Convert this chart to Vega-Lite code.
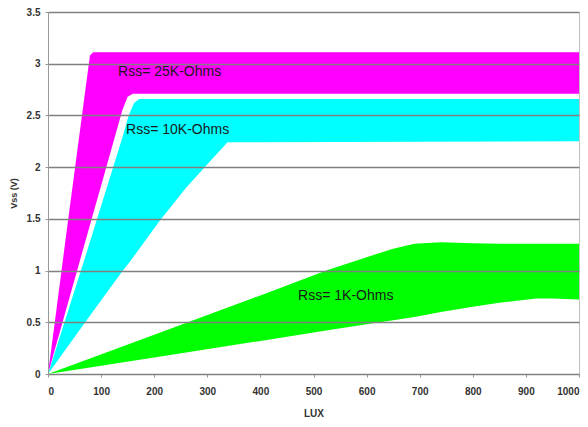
{
  "$schema": "https://vega.github.io/schema/vega-lite/v6.json",
  "width": 531,
  "height": 362,
  "autosize": {"type": "none"},
  "padding": {"left": 48, "top": 12, "right": 9, "bottom": 53},
  "config": {"view": {"stroke": "#c0c0c0"}, "font": "Liberation Sans"},
  "layer": [
    {
      "data": {
        "values": [
          {"band": "1K", "lux": 0, "lo": 0, "hi": 0},
          {"band": "1K", "lux": 200, "lo": 0.16, "hi": 0.38},
          {"band": "1K", "lux": 400, "lo": 0.32, "hi": 0.76},
          {"band": "1K", "lux": 524, "lo": 0.42, "hi": 1.0},
          {"band": "1K", "lux": 600, "lo": 0.48, "hi": 1.13},
          {"band": "1K", "lux": 650, "lo": 0.52, "hi": 1.21},
          {"band": "1K", "lux": 690, "lo": 0.55, "hi": 1.26},
          {"band": "1K", "lux": 740, "lo": 0.6, "hi": 1.275},
          {"band": "1K", "lux": 800, "lo": 0.65, "hi": 1.265},
          {"band": "1K", "lux": 850, "lo": 0.69, "hi": 1.26},
          {"band": "1K", "lux": 920, "lo": 0.73, "hi": 1.26},
          {"band": "1K", "lux": 950, "lo": 0.73, "hi": 1.26},
          {"band": "1K", "lux": 1000, "lo": 0.72, "hi": 1.26},
          {"band": "10K", "lux": 0, "lo": 0, "hi": 0},
          {"band": "10K", "lux": 70, "lo": 0.5, "hi": 1.13},
          {"band": "10K", "lux": 141, "lo": 1.0, "hi": 2.3},
          {"band": "10K", "lux": 152, "lo": 1.07, "hi": 2.5},
          {"band": "10K", "lux": 162, "lo": 1.14, "hi": 2.62},
          {"band": "10K", "lux": 172, "lo": 1.21, "hi": 2.66},
          {"band": "10K", "lux": 210, "lo": 1.48, "hi": 2.66},
          {"band": "10K", "lux": 260, "lo": 1.8, "hi": 2.66},
          {"band": "10K", "lux": 295, "lo": 2.0, "hi": 2.66},
          {"band": "10K", "lux": 338, "lo": 2.24, "hi": 2.66},
          {"band": "10K", "lux": 1000, "lo": 2.25, "hi": 2.66},
          {"band": "25K", "lux": 0, "lo": 0, "hi": 0},
          {"band": "25K", "lux": 40, "lo": 0.73, "hi": 1.57},
          {"band": "25K", "lux": 79, "lo": 1.44, "hi": 3.08},
          {"band": "25K", "lux": 85, "lo": 1.55, "hi": 3.11},
          {"band": "25K", "lux": 100, "lo": 1.82, "hi": 3.11},
          {"band": "25K", "lux": 140, "lo": 2.55, "hi": 3.11},
          {"band": "25K", "lux": 150, "lo": 2.68, "hi": 3.11},
          {"band": "25K", "lux": 160, "lo": 2.71, "hi": 3.11},
          {"band": "25K", "lux": 1000, "lo": 2.71, "hi": 3.11}
        ]
      },
      "mark": {"type": "area", "interpolate": "linear"},
      "encoding": {
        "x": {
          "field": "lux",
          "type": "quantitative",
          "scale": {"domain": [0, 1000], "nice": false},
          "axis": {
            "values": [0, 100, 200, 300, 400, 500, 600, 700, 800, 900, 1000],
            "format": "d",
            "grid": false,
            "domainColor": "#999999",
            "tickColor": "#999999",
            "tickSize": 3,
            "labelFontSize": 10,
            "labelFontWeight": "bold",
            "labelColor": "#333333",
            "labelPadding": 9,
            "title": "LUX",
            "titleFontSize": 10,
            "titleFontWeight": "bold",
            "titleColor": "#333333",
            "titlePadding": 12
          }
        },
        "y": {
          "field": "lo",
          "type": "quantitative",
          "scale": {"domain": [0, 3.5], "nice": false},
          "axis": {
            "values": [0, 0.5, 1, 1.5, 2, 2.5, 3, 3.5],
            "format": "~g",
            "grid": true,
            "gridColor": "#808080",
            "gridWidth": 1.3,
            "zindex": 1,
            "domainColor": "#999999",
            "tickColor": "#999999",
            "tickSize": 3,
            "labelFontSize": 10,
            "labelFontWeight": "bold",
            "labelColor": "#333333",
            "labelPadding": 5,
            "title": "Vss (V)",
            "titleFontSize": 9,
            "titleFontWeight": "bold",
            "titleColor": "#333333",
            "titlePadding": 8
          }
        },
        "y2": {"field": "hi"},
        "color": {
          "field": "band",
          "type": "nominal",
          "scale": {"domain": ["25K", "10K", "1K"], "range": ["#ff00ff", "#00ffff", "#00ff00"]},
          "legend": null
        }
      }
    },
    {
      "data": {
        "values": [
          {"x": 132, "y": 2.92, "label": "Rss= 25K-Ohms"},
          {"x": 147, "y": 2.36, "label": "Rss= 10K-Ohms"},
          {"x": 471, "y": 0.754, "label": "Rss= 1K-Ohms"}
        ]
      },
      "mark": {"type": "text", "align": "left", "baseline": "middle", "fontSize": 14, "color": "#1a1a1a"},
      "encoding": {
        "x": {"field": "x", "type": "quantitative"},
        "y": {"field": "y", "type": "quantitative"},
        "text": {"field": "label"}
      }
    }
  ]
}
